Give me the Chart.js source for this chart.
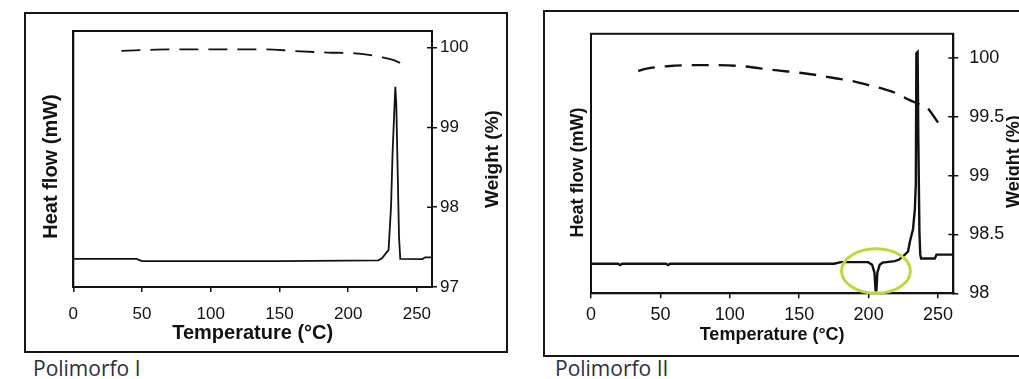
<!DOCTYPE html>
<html>
<head>
<meta charset="utf-8">
<script src="https://cdn.jsdelivr.net/npm/chart.js@4.4.1/dist/chart.umd.min.js"></script>
<style>
  html, body { margin: 0; padding: 0; background: #fff; width: 1019px; height: 379px; overflow: hidden; position: relative; }
  .frame { position: absolute; border: 2px solid #151515; box-sizing: border-box; }
  canvas { position: absolute; }
  .caption { position: absolute; font-family: "Open Sans", "Noto Sans", sans-serif; font-size: 21px; line-height: 21px; color: #2c3042; white-space: nowrap; }
</style>
</head>
<body>
<div class="frame" style="left:24px; top:12px; width:484px; height:341px;"></div>
<div class="frame" style="left:543px; top:10px; width:530px; height:347px;"></div>
<canvas id="chartI" width="478" height="336" style="left:26px; top:14px;"></canvas>
<canvas id="chartII" width="490" height="342" style="left:545px; top:12px;"></canvas>
<div class="caption" style="left:33px; top:358px;">Polimorfo I</div>
<div class="caption" style="left:555px; top:358px;">Polimorfo II</div>

<script>
// Shared temperature axis ticks (°C)
const tempTicks = [0, 50, 100, 150, 200, 250];

// Polimorfo I — DSC heat flow (arbitrary mW scale) and TGA weight (%)
const tempFlowI   = [0, 46, 50, 150, 222, 224.6, 229.4, 231.2, 232.3, 233.8, 234.3, 235.0, 236.0, 237.0, 237.9, 254, 256, 261];
const heatFlowI   = [11.0, 11.0, 10.1, 10.1, 10.4, 11.2, 14.5, 31.4, 52.2, 71.8, 78.2, 71.8, 45.7, 19.6, 11.0, 10.9, 11.6, 11.6];
const tempWeightI = [35, 50, 70, 100, 140, 160, 185, 205, 215, 225, 232, 238, 244];
const weightI     = [99.96, 99.97, 99.98, 99.98, 99.98, 99.96, 99.94, 99.93, 99.91, 99.88, 99.85, 99.81, 99.77];
const weightTicksI = [97, 98, 99, 100];

// Polimorfo II — DSC heat flow (arbitrary mW scale) and TGA weight (%)
const tempFlowII = [0, 19.5, 21, 22.5, 54, 55.6, 57, 175, 180, 199.6, 202.5, 204.2, 205.0, 205.6, 206.3, 208, 210, 218.9, 222, 226.1, 228.4, 229.7, 232.0, 233.3, 234.0, 234.4, 235.3, 235.8, 236.6, 237.2, 237.8, 247.7, 248.9, 261];
const heatFlowII = [11.4, 11.4, 10.9, 11.4, 11.4, 10.9, 11.4, 11.4, 12.0, 12.0, 11.0, 8.0, 1.2, 1.2, 8.0, 11.0, 11.8, 12.4, 13.0, 14.9, 16.1, 19.9, 24.8, 32.3, 42.2, 92.5, 93.0, 60.0, 23.6, 14.9, 13.4, 13.4, 14.9, 14.9];
const tempWeightII = [34, 40, 55, 75, 90, 110, 130, 150, 160, 175, 190, 200, 210, 220, 230, 236, 242, 246, 250];
const weightII     = [99.89, 99.91, 99.93, 99.94, 99.94, 99.93, 99.90, 99.875, 99.86, 99.83, 99.80, 99.77, 99.74, 99.70, 99.64, 99.61, 99.58, 99.52, 99.45];
const weightTicksII = [98, 98.5, 99, 99.5, 100];

// Solid-solid transition marked on the Polimorfo II thermogram (°C, heat flow units)
const transitionMark = { temp: 205.3, flow: 8.6, tempRadius: 24.8, flowRadius: 8.6 };

const INK = '#121212';
const toPoints = (xs, ys) => xs.map((x, i) => ({ x, y: ys[i] }));

// Box around the plot area, plus the inner half of the weight-axis ticks
const plotFrame = {
  id: 'plotFrame',
  afterDatasetsDraw(chart) {
    const { ctx, chartArea: a } = chart;
    const w = chart.scales.yWeight;
    ctx.save();
    ctx.strokeStyle = INK;
    ctx.lineWidth = 2;
    ctx.strokeRect(a.left, a.top, a.right - a.left, a.bottom - a.top);
    ctx.lineWidth = 1.5;
    ctx.beginPath();
    w.ticks.forEach(t => {
      const y = w.getPixelForValue(t.value);
      ctx.moveTo(a.right - 5, y);
      ctx.lineTo(a.right, y);
    });
    ctx.stroke();
    ctx.restore();
  }
};

// Vertical axis titles, both reading bottom-to-top
const sideTitles = {
  id: 'sideTitles',
  afterDraw(chart, args, opts) {
    const { ctx, chartArea: a } = chart;
    (opts.items || []).forEach(it => {
      const x = it.edge === 'left' ? it.offset : chart.width - it.offset;
      const y = (a.top + a.bottom) / 2 + (it.dy || 0);
      ctx.save();
      ctx.translate(x, y);
      ctx.rotate(-Math.PI / 2);
      ctx.font = it.font;
      ctx.fillStyle = INK;
      ctx.textAlign = 'center';
      ctx.textBaseline = 'middle';
      ctx.fillText(it.text, 0, 0);
      ctx.restore();
    });
  }
};

// Highlight ring around an event, given in data coordinates
const eventRing = {
  id: 'eventRing',
  afterDatasetsDraw(chart, args, opts) {
    if (!opts.mark) return;
    const m = opts.mark;
    const xs = chart.scales.x, ys = chart.scales.yHeat;
    const cx = xs.getPixelForValue(m.temp);
    const cy = ys.getPixelForValue(m.flow);
    const rx = Math.abs(xs.getPixelForValue(m.temp + m.tempRadius) - cx);
    const ry = Math.abs(ys.getPixelForValue(m.flow + m.flowRadius) - cy);
    const ctx = chart.ctx;
    ctx.save();
    ctx.strokeStyle = opts.color;
    ctx.lineWidth = opts.width;
    ctx.beginPath();
    ctx.ellipse(cx, cy, rx, ry, 0, 0, Math.PI * 2);
    ctx.stroke();
    ctx.restore();
  }
};

function makeChart(id, p) {
  return new Chart(document.getElementById(id), {
    type: 'line',
    data: {
      datasets: [
        {
          label: 'Heat flow (mW)',
          data: toPoints(p.tempFlow, p.heatFlow),
          xAxisID: 'x', yAxisID: 'yHeat',
          borderColor: INK, borderWidth: p.flowWidth,
          pointRadius: 0, tension: 0
        },
        {
          label: 'Weight (%)',
          data: toPoints(p.tempWeight, p.weight),
          xAxisID: 'x', yAxisID: 'yWeight',
          borderColor: INK, borderWidth: p.weightWidth, borderDash: p.dash,
          pointRadius: 0, cubicInterpolationMode: 'monotone'
        }
      ]
    },
    options: {
      responsive: false,
      animation: false,
      events: [],
      layout: { padding: { top: p.areaTop, left: 0, right: 0, bottom: 0 } },
      plugins: {
        legend: { display: false },
        tooltip: { enabled: false },
        sideTitles: { items: p.sideTitles },
        eventRing: p.ring || {}
      },
      scales: {
        x: {
          type: 'linear', position: 'bottom', min: 0, max: 261,
          afterBuildTicks: s => { s.ticks = tempTicks.map(v => ({ value: v })); },
          afterFit: s => { s.height = p.xHeight; },
          ticks: { color: INK, font: { family: 'Liberation Sans', size: p.tickSize }, padding: p.xTickPad, maxRotation: 0, callback: v => String(v) },
          grid: { display: true, drawOnChartArea: false, drawTicks: true, tickLength: 5, color: INK, lineWidth: 1.5 },
          border: { display: true, color: INK, width: 2 },
          title: {
            display: true, text: 'Temperature (°C)', color: INK,
            font: { family: 'Liberation Sans', size: p.titleSize, weight: 'bold', lineHeight: 1 },
            padding: { top: 0, bottom: p.xTitlePad }
          }
        },
        yHeat: {
          type: 'linear', position: 'left', min: 0, max: 100,
          afterFit: s => { s.width = p.leftWidth; },
          ticks: { display: false },
          grid: { display: false },
          border: { display: true, color: INK, width: 2 }
        },
        yWeight: {
          type: 'linear', position: 'right', min: p.wMin, max: p.wMax,
          afterBuildTicks: s => { s.ticks = p.weightTicks.map(v => ({ value: v })); },
          afterFit: s => { s.width = p.rightWidth; },
          ticks: { color: INK, font: { family: 'Liberation Sans', size: p.tickSize }, padding: p.yTickPad, callback: v => String(v) },
          grid: { display: true, drawOnChartArea: false, drawTicks: true, tickLength: 5, color: INK, lineWidth: 1.5 },
          border: { display: true, color: INK, width: 2 }
        }
      }
    },
    plugins: [plotFrame, sideTitles, eventRing]
  });
}

makeChart('chartI', {
  tempFlow: tempFlowI, heatFlow: heatFlowI,
  tempWeight: tempWeightI, weight: weightI, weightTicks: weightTicksI,
  wMin: 97, wMax: 100.21,
  flowWidth: 1.8, weightWidth: 1.8, dash: [19, 10],
  areaTop: 17, leftWidth: 47.3, rightWidth: 72, xHeight: 63,
  tickSize: 17, titleSize: 20, xTickPad: 12, xTitlePad: 7, yTickPad: 3,
  sideTitles: [
    { text: 'Heat flow (mW)', edge: 'left', offset: 25.7, dy: 7.5, font: 'bold 20px "Liberation Sans"' },
    { text: 'Weight (%)', edge: 'right', offset: 11.5, dy: 0, font: 'bold 19px "Liberation Sans"' }
  ]
});

makeChart('chartII', {
  tempFlow: tempFlowII, heatFlow: heatFlowII,
  tempWeight: tempWeightII, weight: weightII, weightTicks: weightTicksII,
  wMin: 98, wMax: 100.206,
  flowWidth: 2.4, weightWidth: 2.4, dash: [17, 10],
  areaTop: 13, leftWidth: 46, rightWidth: 81.7, xHeight: 60.7,
  tickSize: 18, titleSize: 18, xTickPad: 6, xTitlePad: 10, yTickPad: 11,
  sideTitles: [
    { text: 'Heat flow (mW)', edge: 'left', offset: 33.3, dy: 9, font: 'bold 18px "Liberation Sans"' },
    { text: 'Weight (%)', edge: 'right', offset: 21, dy: -2, font: 'bold 18px "Liberation Sans"' }
  ],
  ring: { mark: transitionMark, color: '#c0d83e', width: 3 }
});
</script>
</body>
</html>
